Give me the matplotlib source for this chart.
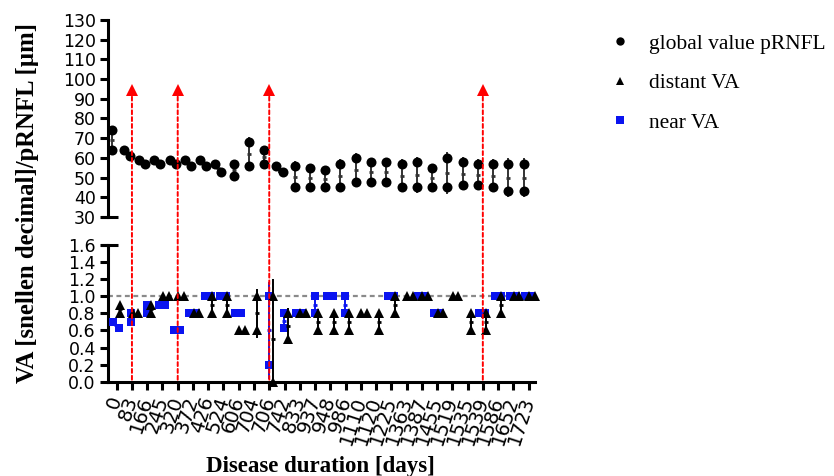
import numpy as np
import matplotlib
matplotlib.use('Agg')
import matplotlib.pyplot as plt
from matplotlib.patches import ConnectionPatch
from matplotlib.lines import Line2D
from matplotlib.font_manager import FontProperties

nan = np.nan
categories = ['0', '83', '166', '245', '320', '372', '426', '524', '606', '704', '706', '742',
              '833', '937', '948', '986', '1110', '1120', '1225', '1363', '1387', '1455',
              '1519', '1535', '1539', '1586', '1652', '1723']
events = ['83', '320', '706', '1539']

# global pRNFL [µm], two eyes per visit
prnfl_a = [74, 64, 59, 59, 59, 59, 59, 57, 57, 68, 64, 56, 56, 55, 54, 57, 60, 58, 58, 57, 58, 55, 60, 58, 57, 57, 57, 57]
prnfl_b = [64, 61, 57, 57, 57, 56, 56, 53, 51, 56, 57, 53, 45, 45, 45, 45, 48, 48, 48, 45, 45, 45, 45, 46, 46, 45, 43, 43]
# near VA (snellen decimal)
near_a = [0.7, 0.8, 0.9, 0.9, 0.6, 0.8, 1.0, 1.0, 0.8, nan, 1.0, 0.8, 0.8, 1.0, 1.0, 1.0, nan, nan, 1.0, nan, 1.0, 0.8, nan, nan, 0.8, 1.0, 1.0, 1.0]
near_b = [0.63, 0.7, 0.8, 0.9, 0.6, 0.8, 1.0, 1.0, 0.8, nan, 0.2, 0.63, 0.8, 0.8, 1.0, 0.8, nan, nan, 1.0, nan, 1.0, 0.8, nan, nan, 0.8, 1.0, 1.0, 1.0]
# distant VA (snellen decimal)
dist_a = [0.9, 0.8, 0.9, 1.0, 1.0, 0.8, 1.0, 1.0, 0.6, 1.0, 1.0, 0.8, 0.8, 0.8, 0.8, 0.8, 0.8, 0.8, 1.0, 1.0, 1.0, 0.8, 1.0, 0.8, 0.8, 1.0, 1.0, 1.0]
dist_b = [0.8, 0.8, 0.8, 1.0, 1.0, 0.8, 0.8, 0.8, 0.6, 0.6, 0.0, 0.5, 0.8, 0.6, 0.6, 0.6, 0.8, 0.6, 0.8, 1.0, 1.0, 0.8, 1.0, 0.6, 0.6, 0.8, 1.0, 1.0]

W, H = 834, 476
fig = plt.figure(figsize=(W / 100, H / 100), dpi=100)
L, R = 108.3, 535
ax1 = fig.add_axes([L / W, 1 - 217 / H, (R - L) / W, (217 - 20) / H])
ax2 = fig.add_axes([L / W, 1 - 381.7 / H, (R - L) / W, (381.7 - 245) / H])

x = np.arange(len(categories))
SPW = 2.2


def draw_group(ax, va, vb, offset, thr, spread, marker, color, ms, ecolor, z):
    for i in range(len(va)):
        a, b = va[i], vb[i]
        if np.isnan(a):
            continue
        c = x[i] + offset
        vals = np.array([a, b], dtype=float)
        m = vals.mean()
        sd = vals.std(ddof=1)
        if sd > 0:
            ax.plot([c, c], [m - sd, m + sd], color=ecolor, lw=1.4, zorder=z, solid_capstyle='butt')
            ax.plot([c], [m], marker='_', ms=3.5, mew=2, color=ecolor, zorder=z)
        if abs(a - b) < thr:
            xs = [c - spread / 2, c + spread / 2]
        else:
            xs = [c, c]
        ax.plot(xs, [a, b], ls='none', marker=marker, color=color, ms=ms, mew=0,
                zorder=z + 1, clip_on=False)


draw_group(ax1, prnfl_a, prnfl_b, -0.33, 5, 0.4, 'o', 'black', 7.2, '#333333', 3)
draw_group(ax2, near_a, near_b, -0.03, 0.09, 0.4, 's', '#0a14f0', 6.4, '#0a14f0', 3)
draw_group(ax2, dist_a, dist_b, 0.22, 0.09, 0.36, '^', 'black', 7.0, 'black', 5)

ax2.axhline(1.0, color='#8a8a8a', ls=(0, (2.2, 1.6)), lw=1.6, zorder=0.5)

xlim = (-0.55, 27.42)
for ax in (ax1, ax2):
    ax.set_xlim(*xlim)
    for s in ('top', 'right'):
        ax.spines[s].set_visible(False)
    ax.spines['left'].set_linewidth(SPW)
    ax.spines['bottom'].set_linewidth(SPW)
    ax.tick_params(width=SPW, length=6, labelsize=12.5, pad=3)

ax1.spines['bottom'].set_visible(False)
ax1.tick_params(axis='x', bottom=False, labelbottom=False)
ax1.set_ylim(30, 130)
ax1.set_yticks(np.arange(30, 131, 10))
ax1.plot([-0.016, 0.023], [0, 0], transform=ax1.transAxes, color='black', lw=SPW,
         clip_on=False, solid_capstyle='butt')

ax2.set_ylim(0, 1.6)
ax2.set_yticks(np.arange(0, 1.61, 0.2))
ax2.yaxis.set_major_formatter('{x:.1f}')
ax2.set_xticks(x)
ax2.set_xticklabels(categories, rotation=72, ha='right', va='center', rotation_mode='anchor',
                    fontsize=14)
ax2.tick_params(axis='x', pad=5)
ax2.plot([-0.016, 0.023], [1, 1], transform=ax2.transAxes, color='black', lw=SPW,
         clip_on=False, solid_capstyle='butt')

# event markers
for ev in events:
    xi = categories.index(ev)
    ax1.plot([xi], [94.5], marker='^', color='#ff0000', ms=9, mew=0, zorder=6, clip_on=False)
    con = ConnectionPatch(xyA=(xi, 94.5), coordsA=ax1.transData, xyB=(xi, 0), coordsB=ax2.transData,
                          color='#ff0000', lw=1.4, ls=(0, (2, 1.5)), zorder=10)
    fig.add_artist(con)

serif = 'Liberation Serif'
fig.text(0.033, 0.573, 'VA [snellen decimal]/pRNFL [µm]', rotation=90, ha='center', va='center',
         family=serif, weight='bold', size=17.8)
fig.text(0.384, 0.019, 'Disease duration [days]', ha='center', va='center',
         family=serif, weight='bold', size=16.5)

handles = [Line2D([], [], ls='none', marker='o', color='black', ms=6, mew=0),
           Line2D([], [], ls='none', marker='^', color='black', ms=6, mew=0),
           Line2D([], [], ls='none', marker='s', color='#0a14f0', ms=6, mew=0)]
fig.legend(handles, ['global value pRNFL', 'distant VA', 'near VA'], loc='upper left',
           bbox_to_anchor=(601 / W, 1 - 25 / H), frameon=False,
           prop=FontProperties(family=serif, size=15.5), handletextpad=0.85,
           labelspacing=0.9, handlelength=1.0, borderaxespad=0)

fig.savefig('out.png', dpi=100)
